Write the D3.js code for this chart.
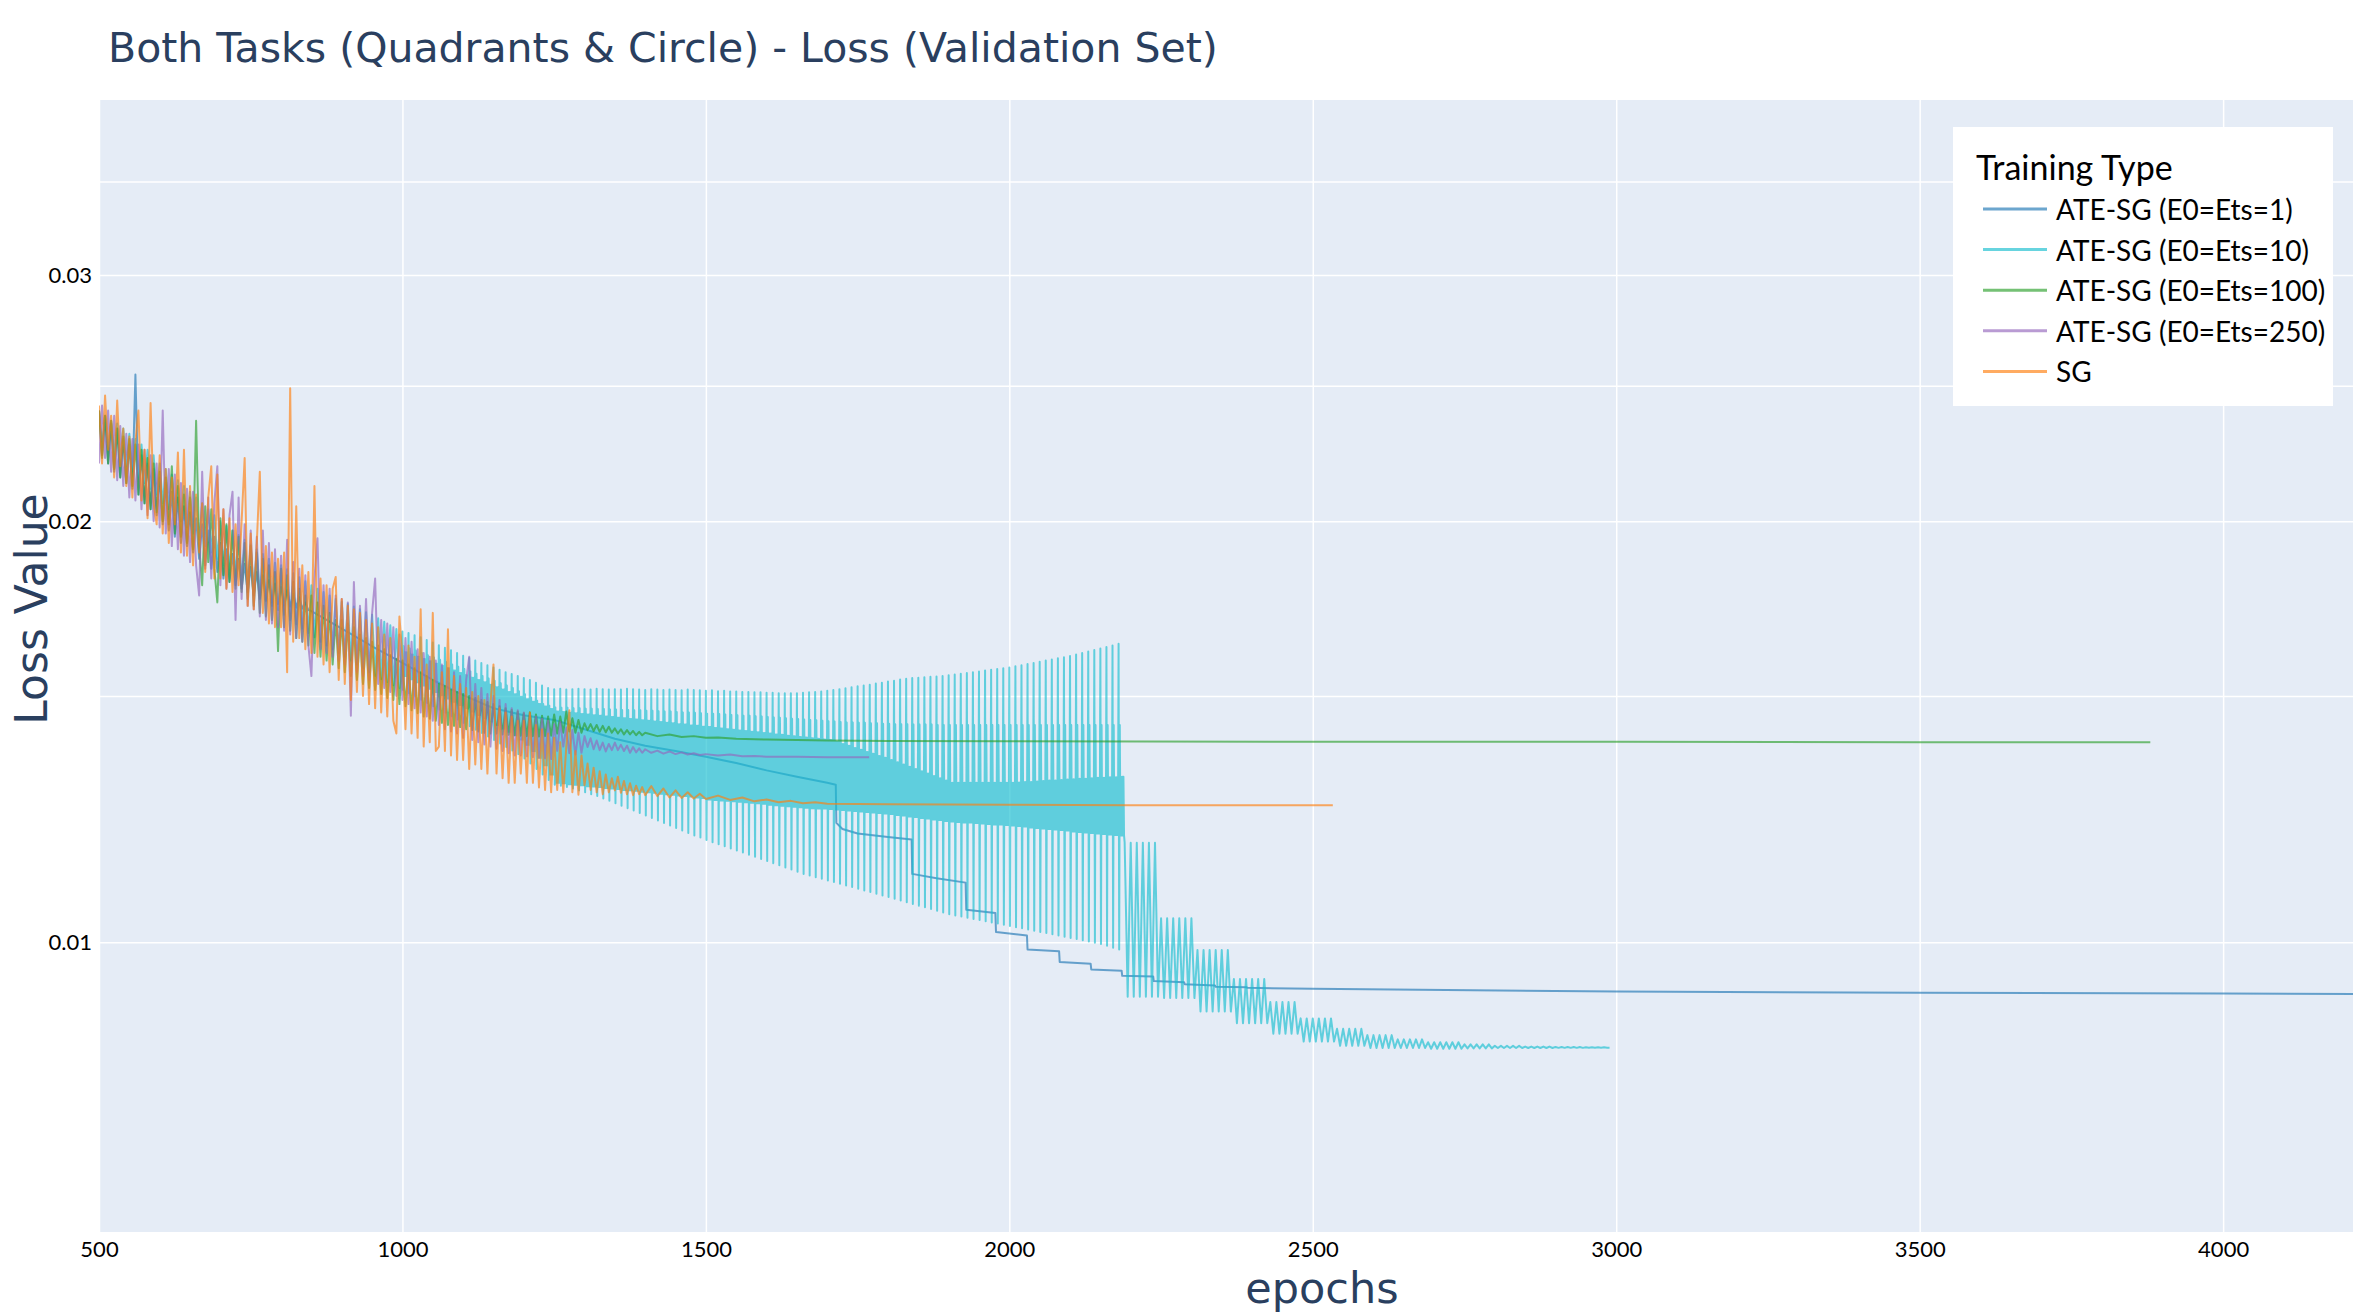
<!DOCTYPE html>
<html>
<head>
<meta charset="utf-8">
<script src="https://cdn.jsdelivr.net/npm/d3@7"></script>
<style>
  body { margin: 0; background: #fff; }
</style>
</head>
<body>
<div id="chart"></div>
<script>
// ---- data (loss values are in units of 1e-5) ----
const seriesNames = ["ATE-SG (E0=Ets=1)", "ATE-SG (E0=Ets=10)", "ATE-SG (E0=Ets=100)", "ATE-SG (E0=Ets=250)", "SG"];
const seriesColors = ["#1f77b4", "#17becf", "#2ca02c", "#9467bd", "#ff7f0e"];

const xTicks = [500, 1000, 1500, 2000, 2500, 3000, 3500, 4000];
const yGrid = [0.01, 0.015, 0.02, 0.025, 0.03, 0.035];
const yLabels = {0.01: "0.01", 0.02: "0.02", 0.03: "0.03"};

// ATE-SG (E0=Ets=1): noisy 500..845 every 5 epochs, then a smooth stepped tail
const blueNoisy = [
  2400, 2230, 2380, 2200, 2350, 2170, 2330, 2150, 2290, 2130,
  2270, 2110, 2547, 2090, 2230, 2060, 2200, 2040, 2180, 2020,
  2150, 1990, 2130, 1970, 2100, 1950, 2080, 1930, 2050, 1920,
  2030, 1900, 2010, 1880, 1990, 1860, 1970, 1850, 1950, 1840,
  1930, 1820, 1910, 1810, 1895, 1800, 1880, 1790, 1865, 1780,
  1855, 1770, 1840, 1760, 1830, 1755, 1815, 1750, 1805, 1745,
  1795, 1740, 1785, 1738, 1775, 1735, 1765, 1732, 1750, 1728
];
const blueTailEpochs = [850, 900, 950, 1000, 1050, 1100, 1150, 1200, 1250, 1300, 1350, 1400, 1450, 1500, 1550, 1600, 1650, 1700,
  1714, 1715, 1725, 1750, 1800, 1839, 1840, 1880, 1928, 1929, 1977, 1978, 2029, 2030, 2082, 2083, 2134, 2135, 2185,
  2186, 2237, 2238, 2288, 2289, 2339, 2340, 2391, 2392, 2500, 3000, 3500, 4000, 4214];
const blueTailLoss = [1725, 1676, 1628, 1584, 1540, 1502, 1470, 1453, 1442, 1420, 1398, 1382, 1370, 1357, 1343, 1327, 1313, 1300,
  1296, 1217, 1205, 1196, 1189, 1184, 1119, 1111, 1103, 1055, 1049, 1017, 1011, 988, 985, 968, 965, 956, 954,
  946, 945, 938, 936, 933, 931, 929, 928.5, 927.5, 926, 922, 920, 919, 918];

// ATE-SG (E0=Ets=10): band 500..995 every 5 epochs
const cyanEarly = [
  2400, 2260, 2380, 2250, 2360, 2230, 2350, 2210, 2330, 2190,
  2310, 2170, 2290, 2150, 2270, 2130, 2250, 2110, 2230, 2090,
  2200, 2060, 2180, 2040, 2160, 2020, 2140, 2000, 2120, 1980,
  2100, 1960, 2080, 1940, 2060, 1920, 2040, 1900, 2020, 1880,
  2000, 1860, 1985, 1845, 1970, 1830, 1955, 1815, 1940, 1800,
  1925, 1785, 1910, 1770, 1895, 1755, 1880, 1740, 1868, 1728,
  1860, 1715, 1848, 1700, 1836, 1688, 1824, 1676, 1812, 1664,
  1800, 1652, 1790, 1640, 1780, 1630, 1770, 1620, 1760, 1610,
  1752, 1600, 1745, 1590, 1738, 1580, 1730, 1570, 1722, 1560,
  1715, 1550, 1705, 1542, 1695, 1535, 1685, 1527, 1675, 1520
];
// one entry per 10-epoch cycle, 1000..2180
const cyanPeak = [
  1668, 1664, 1658, 1652, 1645, 1638, 1631, 1624, 1617, 1610,
  1603, 1597, 1590, 1584, 1578, 1572, 1566, 1560, 1555, 1550,
  1545, 1540, 1533, 1526, 1520,
  1517, 1518, 1516, 1517, 1518, 1517, 1516, 1518, 1517, 1516,
  1517, 1516, 1518, 1517, 1516, 1515, 1517, 1516, 1515, 1516,
  1515, 1514, 1516, 1515, 1514, 1513, 1514, 1512, 1513, 1511,
  1511, 1510, 1510, 1509, 1509, 1508, 1508, 1507, 1507, 1507,
  1507, 1508, 1509, 1510, 1511, 1513, 1515, 1517, 1519, 1522,
  1524, 1526, 1528, 1531, 1533, 1536, 1538, 1541, 1543, 1545,
  1546, 1547, 1548, 1549, 1550, 1552, 1554, 1556, 1558, 1560,
  1562, 1564, 1566, 1568, 1570, 1572, 1575, 1578, 1581, 1584,
  1587, 1590, 1593, 1596, 1599, 1602, 1606, 1610, 1614, 1618,
  1622, 1626, 1630, 1635
];
const cyanTrough = [
  1515, 1507, 1499, 1491, 1483, 1475, 1467, 1459, 1451, 1443,
  1435, 1427, 1419, 1411, 1403, 1395, 1387, 1379, 1371, 1363,
  1353, 1342, 1330, 1318, 1306,
  1296, 1294, 1291, 1288, 1284, 1280, 1276, 1272, 1267, 1262,
  1257, 1252, 1247, 1242, 1237, 1232, 1227, 1222, 1217, 1212,
  1207, 1202, 1197, 1192, 1188, 1183, 1179, 1175, 1171, 1167,
  1163, 1159, 1155, 1151, 1147, 1143, 1139, 1135, 1131, 1127,
  1123, 1119, 1116, 1113, 1110, 1107, 1104, 1101, 1098, 1095,
  1092, 1089, 1086, 1083, 1080, 1077, 1074, 1071, 1068, 1065,
  1062, 1059, 1056, 1053, 1050, 1047, 1045, 1043, 1041, 1039,
  1037, 1035, 1033, 1031, 1029, 1027, 1025, 1023, 1021, 1019,
  1017, 1015, 1013, 1011, 1009, 1007, 1005, 1003, 1001, 999,
  997, 994, 991, 988
];
const cyanBandTop = [
  1628, 1622, 1616, 1610, 1604, 1598, 1592, 1586, 1580, 1574,
  1568, 1562, 1556, 1550, 1544, 1538, 1532, 1526, 1520, 1512,
  1504, 1496, 1488, 1480, 1476,
  1472, 1471, 1471, 1470, 1470, 1469, 1469, 1468, 1468, 1467,
  1467, 1466, 1466, 1465, 1465, 1464, 1464, 1463, 1462, 1462,
  1461, 1460, 1460, 1459, 1458, 1457, 1457, 1456, 1455, 1454,
  1453, 1452, 1452, 1451, 1450, 1449, 1448, 1447, 1446, 1445,
  1444, 1443, 1442, 1441, 1440, 1439, 1438, 1437, 1436, 1436,
  1435, 1435, 1434, 1434, 1433, 1433, 1432, 1432, 1432, 1431,
  1431, 1431, 1431, 1430, 1430, 1430, 1430, 1430, 1430, 1430,
  1430, 1430, 1430, 1430, 1430, 1430, 1430, 1430, 1430, 1430,
  1430, 1430, 1430, 1430, 1430, 1430, 1430, 1430, 1430, 1430,
  1430, 1430, 1430, 1430
];
const cyanBandHi = [
  1612, 1606, 1600, 1594, 1588, 1582, 1576, 1570, 1564, 1558,
  1552, 1546, 1540, 1534, 1528, 1522, 1516, 1510, 1504, 1498,
  1492, 1486, 1480, 1474, 1468,
  1462, 1461, 1459, 1458, 1456, 1455, 1453, 1452, 1450, 1449,
  1447, 1446, 1444, 1443, 1441, 1440, 1438, 1437, 1435, 1434,
  1432, 1431, 1429, 1428, 1426, 1425, 1423, 1422, 1420, 1419,
  1417, 1416, 1414, 1413, 1411, 1410, 1408, 1407, 1405, 1404,
  1402, 1401, 1399, 1398, 1396, 1395, 1391, 1386, 1382, 1377,
  1373, 1368, 1364, 1359, 1355, 1350, 1345, 1340, 1335, 1330,
  1325, 1320, 1315, 1310, 1305, 1300, 1300, 1300, 1300, 1300,
  1300, 1300, 1300, 1300, 1300, 1300, 1301, 1302, 1302, 1303,
  1304, 1305, 1305, 1306, 1307, 1308, 1309, 1309, 1310, 1311,
  1311, 1312, 1312, 1313
];
const cyanBandLo = [
  1550, 1542, 1534, 1526, 1518, 1510, 1502, 1494, 1486, 1478,
  1470, 1462, 1454, 1446, 1438, 1430, 1422, 1414, 1406, 1396,
  1384, 1370, 1355, 1338, 1318,
  1300, 1299, 1297, 1296, 1295, 1293, 1292, 1291, 1289, 1288,
  1287, 1285, 1284, 1283, 1281, 1280, 1279, 1277, 1276, 1275,
  1273, 1272, 1271, 1269, 1268, 1265, 1264, 1263, 1262, 1261,
  1260, 1259, 1258, 1257, 1256, 1254, 1253, 1252, 1251, 1250,
  1249, 1248, 1247, 1246, 1246, 1245, 1244, 1243, 1242, 1241,
  1240, 1239, 1238, 1237, 1236, 1235, 1233, 1232, 1230, 1229,
  1227, 1226, 1224, 1223, 1221, 1220, 1219, 1218, 1218, 1217,
  1216, 1215, 1214, 1214, 1213, 1212, 1211, 1210, 1208, 1207,
  1206, 1205, 1204, 1203, 1202, 1200, 1199, 1198, 1197, 1196,
  1195, 1194, 1193, 1192
];
// after 2190 the oscillation comes in groups that step down
const cyanGroupStart = [2190, 2246, 2305, 2363, 2422, 2478, 2535, 2588, 2638, 2690, 2742, 2794, 2846, 2898, 2950];
const cyanGroupTop = [1178, 1040, 987, 941, 906, 882, 867, 858, 852, 848, 845, 843, 842, 841.5, 841];
const cyanGroupBottom = [914, 912, 892, 875, 860, 849, 843, 840, 840, 839, 839.5, 840, 840, 840.2, 840.5];
const cyanEnd = [2989, 840.5];

// ATE-SG (E0=Ets=100): noisy 500..1395 every 5 epochs, then tail
const greenNoisy = [
  2400, 2220, 2380, 2200, 2360, 2180, 2330, 2150, 2300, 2130,
  2290, 2120, 2270, 2090, 2250, 2060, 2220, 2040, 2200, 2030,
  2170, 2000, 2150, 1990, 2190, 1960, 2120, 1950, 2090, 1930,
  2080, 1910, 2360, 1920, 1800, 2050, 1870, 2040, 1850, 1750,
  2010, 1830, 1990, 1810, 1970, 1790, 1950, 1780, 1930, 1760,
  1920, 1740, 1900, 1720, 1880, 1710, 1860, 1700, 1840, 1615,
  1850, 1680, 1830, 1670, 1810, 1650, 1790, 1640, 1770, 1630,
  1770, 1610, 1750, 1600, 1740, 1590, 1720, 1580, 1700, 1570,
  1700, 1560, 1690, 1550, 1680, 1540, 1660, 1530, 1650, 1520,
  1640, 1515, 1630, 1505, 1620, 1495, 1605, 1490, 1595, 1480,
  1590, 1475, 1580, 1465, 1570, 1458, 1560, 1450, 1550, 1445,
  1540, 1440, 1530, 1435, 1525, 1430, 1515, 1428, 1510, 1425,
  1505, 1420, 1500, 1418, 1495, 1415, 1490, 1412, 1485, 1410,
  1480, 1410, 1475, 1408, 1470, 1407, 1466, 1406, 1462, 1405,
  1458, 1404, 1460, 1404, 1455, 1403, 1452, 1404, 1450, 1405,
  1455, 1410, 1450, 1412, 1462, 1415, 1446, 1412, 1442, 1412,
  1434, 1418, 1432, 1416, 1430, 1414, 1428, 1413, 1426, 1412,
  1422, 1410, 1420, 1408, 1418, 1408, 1416, 1406, 1414, 1406
];
const greenTailEpochs = [1400, 1420, 1440, 1460, 1480, 1500, 1520, 1550, 1600, 1700, 1800, 2000, 2500, 3000, 3500, 3880];
const greenTailLoss = [1412, 1404, 1408, 1402, 1404, 1400, 1401, 1398, 1396, 1394, 1393, 1392, 1391, 1391, 1390, 1390];

// ATE-SG (E0=Ets=250)
const purpleNoisy = [
  2200, 2420, 2220, 2400, 2170, 2380, 2140, 2340, 2120, 2310,
  2080, 2290, 2070, 2270, 2040, 2250, 2020, 2230, 2000, 2200,
  1980, 2400, 1960, 2180, 1920, 2160, 1910, 2130, 1890, 2110,
  1870, 2100, 1860, 1770, 2170, 1850, 2080, 1820, 2060, 2190,
  1800, 2040, 1790, 2020, 2100, 1700, 2080, 1760, 1990, 1740,
  1970, 1730, 1950, 1710, 1970, 1700, 1930, 1690, 1910, 1680,
  1890, 1670, 1940, 1660, 1870, 1650, 1850, 1640, 1830, 1630,
  1550, 1820, 1945, 1620, 1800, 1610, 1790, 1600, 1770, 1590,
  1760, 1580, 1750, 1452, 1810, 1560, 1740, 1550, 1760, 1540,
  1720, 1820, 1530, 1700, 1520, 1690, 1510, 1680, 1500, 1660,
  1490, 1650, 1480, 1640, 1470, 1620, 1460, 1610, 1450, 1600,
  1440, 1590, 1430, 1580, 1420, 1570, 1415, 1560, 1410, 1550,
  1400, 1540, 1600, 1395, 1530, 1390, 1520, 1385, 1505, 1380,
  1500, 1375, 1490, 1370, 1480, 1365, 1470, 1360, 1465, 1360,
  1460, 1358, 1455, 1356, 1450, 1355, 1445, 1354, 1440, 1352,
  1432, 1370, 1437, 1380, 1424, 1365, 1418, 1362, 1412, 1366,
  1404, 1379, 1399, 1374, 1394, 1372, 1389, 1369, 1386, 1372,
  1389, 1372, 1384, 1370, 1382, 1366, 1379, 1367, 1376, 1366
];
const purpleTailEpochs = [1400, 1410, 1420, 1430, 1440, 1450, 1460, 1470, 1480, 1490, 1500, 1520, 1540, 1560, 1580, 1600, 1650, 1700, 1769];
const purpleTailLoss = [1374, 1366, 1371, 1364, 1369, 1363, 1367, 1362, 1365, 1361, 1363, 1360, 1362, 1358, 1359, 1357, 1357, 1356, 1356];

// SG
const sgNoisy = [
  2420, 2200, 2460, 2250, 2380, 2150, 2440, 2190, 2330, 2120,
  2300, 2080, 2280, 2400, 2070, 2250, 2010, 2430, 2060, 1990,
  2230, 1960, 2180, 1930, 2150, 1990, 2240, 1900, 2250, 1890,
  2120, 1860, 2090, 1900, 2060, 1840, 2080, 2190, 1820, 2160,
  1820, 2040, 1790, 2010, 1780, 1990, 1800, 2000, 2220, 1740,
  1960, 1730, 1930, 2170, 1720, 1920, 1690, 1900, 1680, 1880,
  1680, 1900, 1560, 2490, 1640, 2050, 1650, 1860, 1620, 1840,
  1610, 2120, 1600, 1820, 1580, 1800, 1560, 1790, 1825, 1540,
  1760, 1530, 1740, 1490, 1730, 1510, 1720, 1500, 1700, 1480,
  1690, 1470, 1680, 1460, 1660, 1450, 1650, 1440, 1410, 1710,
  1600, 1420, 1630, 1410, 1600, 1400, 1730, 1380, 1580, 1390,
  1720, 1370, 1380, 1560, 1370, 1674, 1360, 1550, 1350, 1530,
  1350, 1520, 1330, 1510, 1340, 1500, 1330, 1490, 1320, 1480,
  1580, 1320, 1470, 1310, 1460, 1300, 1450, 1300, 1440, 1320,
  1440, 1300, 1460, 1300, 1430, 1290, 1420, 1285, 1410, 1280,
  1400, 1285, 1390, 1280, 1380, 1465, 1280, 1370, 1275, 1360,
  1295, 1342, 1285, 1333, 1280, 1325, 1276, 1318, 1280, 1310,
  1284, 1313, 1279, 1304, 1276, 1299, 1274, 1294, 1276, 1291
];
const sgTailEpochs = [1400, 1410, 1420, 1430, 1440, 1450, 1460, 1470, 1480, 1490, 1500, 1520, 1540, 1560, 1580, 1600, 1620, 1640, 1660, 1680, 1700, 1800, 2000, 2200, 2533];
const sgTailLoss = [1274, 1293, 1272, 1288, 1269, 1284, 1268, 1280, 1267, 1277, 1266, 1273, 1264, 1269, 1261, 1265, 1259, 1262, 1257, 1259, 1256, 1255, 1254, 1253, 1253];

// ---- build point lists ----
const U = 1e-5;
function zipPts(epochs, vals) {
  return epochs.map((e, i) => [e, vals[i] * U]);
}

const bluePts = zipPts(d3.range(500, 850, 5), blueNoisy).concat(zipPts(blueTailEpochs, blueTailLoss));

let cyanPts = zipPts(d3.range(500, 1000, 5), cyanEarly);
cyanPeak.forEach((p, i) => {
  const e = 1000 + i * 10;
  const lo = cyanBandLo[i], hi = cyanBandHi[i];
  const cyc = [p, cyanTrough[i], cyanBandTop[i], lo, hi, lo, hi, lo, hi, lo];
  cyc.forEach((v, k) => cyanPts.push([e + k, v * U]));
});
for (let e = 2190; e < cyanEnd[0]; e += 10) {
  const g = d3.bisectRight(cyanGroupStart, e) - 1;
  cyanPts.push([e, cyanGroupTop[g] * U]);
  cyanPts.push([e + 5, cyanGroupBottom[g] * U]);
}
cyanPts.push([cyanEnd[0], cyanEnd[1] * U]);

const greenPts = zipPts(d3.range(500, 1400, 5), greenNoisy).concat(zipPts(greenTailEpochs, greenTailLoss));
const purplePts = zipPts(d3.range(500, 1400, 5), purpleNoisy).concat(zipPts(purpleTailEpochs, purpleTailLoss));
const sgPts = zipPts(d3.range(500, 1400, 5), sgNoisy).concat(zipPts(sgTailEpochs, sgTailLoss));

const allSeries = [bluePts, cyanPts, greenPts, purplePts, sgPts];

// ---- layout ----
const W = 2374, H = 1313;
const margin = {left: 99, top: 100, right: 21, bottom: 81};
const width = W - margin.left - margin.right;
const height = H - margin.top - margin.bottom;

const svg = d3.select("#chart").append("svg")
  .attr("width", W)
  .attr("height", H)
  .style("display", "block")
  .style("background", "#fff");

const x = d3.scaleLinear().domain([500, 4214]).range([0, width]);
const y = d3.scaleLog().domain([0.006204, 0.04003]).range([height, 0]);

const plot = svg.append("g").attr("transform", `translate(${margin.left},${margin.top})`);

plot.append("rect")
  .attr("width", width)
  .attr("height", height)
  .attr("fill", "#e5ecf6");

plot.append("defs").append("clipPath").attr("id", "clip")
  .append("rect").attr("width", width).attr("height", height);

// grid + tick labels through d3 axes
const xAxis = plot.append("g")
  .attr("transform", `translate(0,${height})`)
  .call(d3.axisBottom(x).tickValues(xTicks).tickSize(-height).tickPadding(9).tickFormat(d3.format("d")));
const yAxis = plot.append("g")
  .call(d3.axisLeft(y).tickValues(yGrid).tickSize(-width).tickPadding(7).tickFormat(d => yLabels[d] || ""));

[xAxis, yAxis].forEach(ax => {
  ax.select(".domain").remove();
  ax.selectAll(".tick line").attr("stroke", "#fff").attr("stroke-width", 1.5);
  ax.selectAll(".tick text")
    .attr("fill", "#000")
    .style("font-family", "Lato, 'Noto Sans', sans-serif")
    .style("font-size", "22px");
});

// lines
const line = d3.line().x(d => x(d[0])).y(d => y(d[1]));
const lines = plot.append("g").attr("clip-path", "url(#clip)");
allSeries.forEach((pts, i) => {
  lines.append("path")
    .datum(pts)
    .attr("d", line)
    .attr("fill", "none")
    .attr("stroke", seriesColors[i])
    .attr("stroke-width", 2)
    .attr("stroke-linejoin", "round")
    .attr("opacity", 0.65);
});

// titles
svg.append("text")
  .attr("x", 108)
  .attr("y", 62)
  .attr("fill", "#2a3f5f")
  .style("font-family", "'DejaVu Sans', Verdana, sans-serif")
  .style("font-size", "41px")
  .text("Both Tasks (Quadrants & Circle) - Loss (Validation Set)");

svg.append("text")
  .attr("x", 1322)
  .attr("y", 1303)
  .attr("text-anchor", "middle")
  .attr("fill", "#2a3f5f")
  .style("font-family", "'DejaVu Sans', Verdana, sans-serif")
  .style("font-size", "43px")
  .text("epochs");

svg.append("text")
  .attr("transform", "translate(47,609) rotate(-90)")
  .attr("text-anchor", "middle")
  .attr("fill", "#2a3f5f")
  .style("font-family", "'DejaVu Sans', Verdana, sans-serif")
  .style("font-size", "44px")
  .text("Loss Value");

// legend
const legend = svg.append("g").attr("id", "legend");
legend.append("rect")
  .attr("x", 1953).attr("y", 127)
  .attr("width", 380).attr("height", 279)
  .attr("fill", "#fff");
legend.append("text")
  .attr("x", 1976).attr("y", 180)
  .attr("fill", "#000")
  .style("font-family", "Lato, 'Noto Sans', sans-serif")
  .style("font-size", "34px")
  .text("Training Type");
seriesNames.forEach((name, i) => {
  const ly = 209 + i * 40.6;
  legend.append("line")
    .attr("x1", 1983).attr("x2", 2047)
    .attr("y1", ly).attr("y2", ly)
    .attr("stroke", seriesColors[i])
    .attr("stroke-width", 3)
    .attr("opacity", 0.65);
  legend.append("text")
    .attr("x", 2056).attr("y", ly + 11)
    .attr("fill", "#000")
    .style("font-family", "Lato, 'Noto Sans', sans-serif")
    .style("font-size", "28px")
    .text(name);
});
</script>
</body>
</html>
